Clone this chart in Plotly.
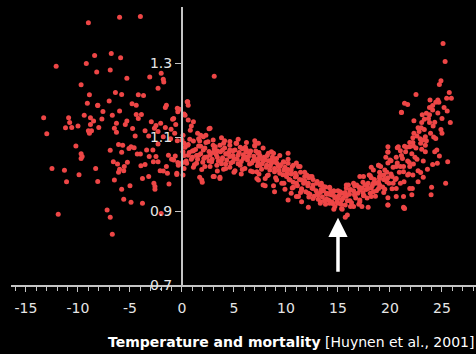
import plotly.graph_objects as go

# Cold side (sparse) : daily mean temperature (°C) and relative mortality
temp_cold = [-9.0, -12.1, -8.4, -9.2, -8.2, -9.7, -8.9, -9.1, -8.1, -9.4, -13.3, -10.9, -8.8, -8.5,
             -10.8, -8.8, -10.0, -11.2, -10.6, -8.0, -9.0, -8.7, -8.9, -13.0, -10.2, -9.7, -9.6, -9.7,
             -12.5, -11.3, -8.3, -9.9, -11.1, -8.1, -11.9]
rr_cold = [1.409, 1.291, 1.320, 1.299, 1.276, 1.241, 1.214, 1.191, 1.185, 1.159, 1.152, 1.152, 1.152, 1.143,
           1.139, 1.134, 1.130, 1.125, 1.126, 1.126, 1.117, 1.117, 1.110, 1.109, 1.076, 1.055, 1.047, 1.042,
           1.015, 1.010, 1.015, 0.998, 0.979, 0.980, 0.891]

temp_cool = [-6.0, -4.0, -6.8, -5.9, -6.9, -5.3, -3.1, -2.0, -1.8, -1.75, -2.3, -6.4, -5.8, -4.2, -3.7, -7.0,
             -4.8, -4.4, -8.1, -1.5, -1.6, -0.45, -7.6, -6.0, -6.7, -4.4, -3.9, -4.2, -7.7, -5.3, -2.95,
             -2.05, -0.9, -0.6, -5.45, -6.3, -2.5, -2.65, -6.5, -4.75, -1.6, -1.05, -3.55, -6.3, -2.3, -0.7,
             -4.5, -3.2, -1.8, -1.1, -0.45, -2.3, -6.1, -5.7, -4.9, -4.6, -5.1, -3.4, -2.8, -6.9, -5.8, -4.3,
             -4.0, -1.3, -0.65, -3.15, -2.5, -1.0, -6.6, -5.25, -2.75, -0.4, -6.2, -2.3, -5.55, -3.95, -3.55,
             -1.5, -6.0, -6.1, -5.6, -2.1, -1.8, -1.4, -0.5, -3.2, -3.8, -6.5, -2.7, -1.25, -2.6, -2.6, -5.0,
             -5.8, -5.6, -4.9, -3.8, -7.2, -2.0, -6.9, -6.7, -0.25, -0.4, -0.8, -0.35, -0.8, -0.5]
rr_cool = [1.424, 1.426, 1.326, 1.314, 1.281, 1.259, 1.262, 1.272, 1.256, 1.249, 1.232, 1.220, 1.215, 1.214,
           1.212, 1.197, 1.190, 1.186, 1.186, 1.186, 1.180, 1.178, 1.169, 1.170, 1.159, 1.161, 1.161, 1.150,
           1.149, 1.143, 1.141, 1.137, 1.148, 1.134, 1.134, 1.137, 1.131, 1.124, 1.124, 1.123, 1.126, 1.121,
           1.117, 1.113, 1.115, 1.110, 1.103, 1.103, 1.101, 1.095, 1.090, 1.081, 1.080, 1.078, 1.074, 1.071,
           1.069, 1.065, 1.065, 1.064, 1.059, 1.054, 1.054, 1.051, 1.049, 1.047, 1.047, 1.040, 1.033, 1.032,
           1.033, 1.031, 1.027, 1.033, 1.020, 1.022, 1.026, 1.020, 1.013, 1.005, 1.009, 1.009, 1.008, 1.002,
           0.999, 0.993, 0.988, 0.984, 0.975, 0.973, 0.966, 0.959, 0.968, 0.959, 0.932, 0.924, 0.921, 0.903,
           0.893, 0.883, 0.837, 1.175, 1.168, 1.150, 1.024, 1.038, 1.002]

temp_mild = [0.5, 0.2, 0.6, 1.1, 0.9, 2.6, 1.5, 1.8, 2.3, 0.0, 0.75, 1.1, 1.7, 2.5, 0.2, 0.55, 4.1, 4.6, 5.2,
             3.65, 3.2, 1.6, 7.0, 5.6, 2.05, 1.1, 3.9, 4.9, 0.1, 6.15, 3.0, 7.3, 0.6, 4.3, 1.6, 2.7, 5.4, 6.4,
             3.4, 4.6, 5.9, 2.1, 0.9, 3.8, 6.85, 2.85, 4.9, 0.05, 0.45, 1.4, 4.2, 6.5, 3.35, 5.6, 7.25, 1.1,
             2.2, 4.6, 6.05, 4.0, 0.2, 5.1, 6.8, 3.1, 3.65, 5.7, 7.2, 1.7, 1.95, 3.1, 0.55, 0.2, 0.6, 2.05,
             4.0, 5.25, 6.2, 7.5, 9.1, 9.75, 10.7, 11.35, 12.0, 12.5, 12.95, 13.6, 13.9, 13.3, 11.0, 3.0, 3.65,
             1.9, 0.1, 2.7, 7.35, 0.3]
rr_mild = [1.195, 1.162, 1.146, 1.141, 1.130, 1.122, 1.110, 1.105, 1.105, 1.092, 1.094, 1.089, 1.089, 1.087,
           1.083, 1.078, 1.090, 1.078, 1.083, 1.078, 1.074, 1.076, 1.076, 1.072, 1.065, 1.063, 1.065, 1.063,
           1.060, 1.060, 1.058, 1.056, 1.051, 1.054, 1.051, 1.051, 1.051, 1.047, 1.045, 1.047, 1.042, 1.042,
           1.040, 1.038, 1.036, 1.033, 1.033, 1.031, 1.029, 1.029, 1.027, 1.027, 1.024, 1.024, 1.022, 1.018,
           1.020, 1.018, 1.015, 1.013, 1.015, 1.009, 1.006, 0.993, 0.991, 1.000, 0.988, 0.991, 0.978, 1.264,
           1.195, 1.161, 1.186, 1.101, 1.083, 1.083, 1.065, 1.042, 1.042, 1.033, 1.024, 1.020, 0.997, 0.993,
           0.975, 0.966, 0.948, 0.921, 0.939, 0.993, 0.988, 0.984, 0.997, 1.124, 1.083, 1.159]

temp_band = [7.0, 8.3, 8.8, 10.2, 7.35, 8.0, 8.6, 8.9, 10.2, 7.5, 8.15, 9.25, 11.2, 7.65, 8.45, 9.8, 10.5,
             7.2, 8.9, 9.4, 10.9, 11.8, 12.3, 8.3, 10.05, 8.0, 9.1, 10.4, 11.5, 7.35, 9.6, 11.0, 12.15, 13.3,
             8.8, 8.0, 10.7, 12.6, 14.2, 9.9, 11.5, 13.6, 8.9, 10.5, 12.15, 13.1, 14.4, 11.2, 12.6, 13.9, 10.2,
             13.3, 14.2, 11.5, 12.15, 7.8]
rr_band = [1.078, 1.056, 1.056, 1.056, 1.042, 1.038, 1.038, 1.033, 1.029, 1.024, 1.024, 1.022, 1.020, 1.013,
           1.011, 1.011, 1.011, 1.006, 1.006, 1.002, 1.002, 0.993, 0.993, 0.997, 0.993, 0.988, 0.984, 0.984,
           0.984, 0.984, 0.975, 0.975, 0.975, 0.970, 0.968, 0.968, 0.964, 0.961, 0.964, 0.959, 0.957, 0.955,
           0.952, 0.948, 0.948, 0.943, 0.943, 0.939, 0.934, 0.932, 0.930, 0.925, 0.921, 0.925, 0.910, 0.970]

temp_warm = [21.1, 20.8, 21.0, 19.8, 20.0, 18.9, 18.4, 19.4, 20.2, 20.6, 19.0, 18.1, 17.45, 19.7, 20.3, 18.4,
             17.6, 16.8, 15.8, 17.9, 18.9, 19.5, 20.6, 16.15, 17.1, 15.2, 14.55, 18.4, 15.7, 16.6, 17.45, 18.2,
             14.7, 21.3, 19.8, 15.35, 16.15, 17.1, 14.4, 15.0, 15.7, 16.5, 17.3, 17.9, 14.7, 15.35, 21.3, 19.8,
             20.6, 15.9, 15.7, 19.8, 19.1, 19.5, 20.7, 19.8, 19.6, 20.1, 20.6, 18.9, 18.2, 17.1, 18.0, 19.0,
             16.5, 16.0, 21.4, 19.8]
rr_warm = [1.166, 1.074, 1.063, 1.060, 1.038, 1.024, 1.011, 0.997, 0.993, 0.988, 0.988, 0.995, 0.993, 0.979,
           0.975, 0.975, 0.970, 0.970, 0.970, 0.961, 0.961, 0.959, 0.961, 0.957, 0.957, 0.952, 0.952, 0.952,
           0.943, 0.943, 0.941, 0.939, 0.939, 0.939, 0.936, 0.930, 0.928, 0.930, 0.925, 0.921, 0.916, 0.912,
           0.912, 0.910, 0.912, 0.907, 0.910, 0.916, 0.939, 0.889, 0.883, 1.074, 1.020, 1.011, 1.071, 1.059,
           1.045, 1.036, 1.020, 1.024, 1.018, 0.993, 0.997, 0.993, 0.975, 0.970, 0.907, 0.916]

temp_hot = [25.1, 25.3, 24.9, 24.75, 25.7, 25.45, 25.9, 22.5, 21.4, 21.7, 23.85, 24.4, 24.7, 21.1, 23.8, 24.1,
            23.5, 22.3, 23.3, 23.05, 23.8, 24.15, 25.8, 25.0, 22.8, 22.2, 22.6, 23.4, 23.2, 24.4, 22.95, 22.25,
            21.6, 21.9, 23.4, 23.05, 24.3, 24.5, 24.75, 21.2, 22.4, 23.2, 21.85, 22.25, 24.1, 24.55, 25.55,
            21.0, 21.9, 22.7, 23.6, 21.3, 21.7, 22.2, 22.95, 23.2, 21.35, 22.7, 25.35, 21.9, 22.15, 24.0, 22.1,
            23.95, 21.35]
rr_hot = [1.353, 1.304, 1.252, 1.242, 1.220, 1.205, 1.205, 1.215, 1.191, 1.188, 1.200, 1.194, 1.194, 1.167,
          1.180, 1.173, 1.164, 1.144, 1.148, 1.139, 1.139, 1.130, 1.139, 1.110, 1.115, 1.098, 1.103, 1.101,
          1.092, 1.096, 1.083, 1.076, 1.072, 1.074, 1.078, 1.067, 1.060, 1.065, 1.049, 1.042, 1.045, 1.035,
          1.031, 1.027, 1.026, 1.029, 1.033, 1.020, 1.020, 1.009, 1.013, 1.006, 0.997, 0.997, 1.004, 0.991,
          0.979, 0.979, 0.975, 0.961, 0.961, 0.964, 0.944, 0.944, 0.908]

# Dense core of the cloud (read as groups of overlapping dots)
temp_core = [0.3, 0.7, 1.0, 1.3, 1.5, 1.8, 2.0, 2.2, 2.4, 2.6, 2.9, 3.1, 3.3, 3.5, 3.7, 3.9, 4.1, 4.3, 4.5,
             4.7, 4.9, 5.1, 5.3, 5.5, 5.7, 5.9, 6.1, 6.3, 6.5, 6.7, 6.9, 7.1, 7.3, 7.5, 7.7, 7.9, 8.1, 8.3, 8.5,
             8.7, 8.9, 9.1, 9.3, 9.5, 9.7, 9.9, 10.1, 10.3, 10.5, 10.7, 10.9, 11.1, 11.3, 11.5, 11.7, 11.9,
             12.1, 12.3, 12.5, 12.7, 12.9, 13.1, 13.3, 13.5, 13.7, 13.9, 14.1, 14.3, 14.5, 14.7, 14.9, 15.1,
             15.3, 15.5, 15.7, 15.9, 16.1, 16.3, 16.5, 16.7, 16.9, 17.1, 17.3, 17.5, 17.7, 17.9, 18.1, 18.3,
             18.5, 18.7, 18.9, 19.1, 19.3, 19.5, 19.7, 19.9, 20.1, 20.3, 20.5, 20.7, 20.9, 21.1, 21.3, 21.5,
             21.7, 21.9, 22.1, 22.3, 22.5, 22.7, 22.9, 23.1, 23.3, 23.5, 23.7, 23.9, 24.1, 24.3, 24.6, 24.9,
             25.2]
rr_core = [1.072, 1.058, 1.045, 1.066, 1.040, 1.055, 1.032, 1.070, 1.046, 1.061, 1.040, 1.068, 1.052, 1.035,
           1.060, 1.044, 1.070, 1.038, 1.058, 1.030, 1.050, 1.065, 1.040, 1.058, 1.034, 1.052, 1.072, 1.038,
           1.056, 1.030, 1.048, 1.062, 1.032, 1.050, 1.028, 1.045, 1.018, 1.036, 1.022, 1.046, 1.015, 1.030,
           1.010, 1.025, 0.998, 1.018, 1.002, 0.985, 1.000, 0.978, 0.992, 0.968, 0.985, 0.960, 0.975, 0.952,
           0.968, 0.945, 0.962, 0.940, 0.955, 0.932, 0.950, 0.938, 0.928, 0.945, 0.930, 0.952, 0.920, 0.936,
           0.925, 0.942, 0.918, 0.935, 0.950, 0.928, 0.945, 0.922, 0.955, 0.935, 0.948, 0.925, 0.962, 0.942,
           0.958, 0.975, 0.948, 0.968, 0.985, 0.955, 0.978, 0.996, 0.965, 0.985, 1.005, 0.975, 1.000, 1.018,
           0.985, 1.030, 1.005, 1.050, 1.020, 1.060, 1.035, 1.085, 1.055, 1.110, 1.070, 1.125, 1.095, 1.160,
           1.120, 1.090, 1.150, 1.110, 1.185, 1.140, 1.165, 1.120, 1.180]

temp_core2 = [0.1, 0.4, 0.8, 1.2, 1.6, 1.9, 2.3, 2.7, 3.0, 3.4, 3.8, 4.2, 4.6, 5.0, 5.4, 5.8, 6.2, 6.6, 7.0,
              7.4, 7.8, 8.2, 8.6, 9.0, 9.4, 9.8, 10.2, 10.6, 11.0, 11.4, 11.8, 12.2, 12.6, 13.0, 13.4, 13.8,
              14.2, 14.6, 15.0, 15.4, 15.8, 16.2, 16.6, 17.0, 17.4, 17.8, 18.2, 18.6, 19.0, 19.4, 19.8, 20.2,
              20.6, 21.0, 21.4, 21.8, 22.2, 22.6, 23.0, 23.4, 23.8, 24.2, 24.6, 25.0, 25.5]
rr_core2 = [1.105, 1.035, 1.118, 1.025, 1.095, 1.012, 1.085, 1.020, 1.092, 1.008, 1.098, 1.015, 1.088, 1.005,
            1.094, 1.012, 1.085, 1.008, 1.090, 1.000, 1.070, 0.995, 1.060, 0.990, 1.050, 0.975, 1.040, 0.962,
            1.030, 0.950, 1.005, 0.938, 0.985, 0.945, 0.975, 0.918, 0.962, 0.905, 0.955, 0.905, 0.962, 0.912,
            0.968, 0.918, 0.978, 0.935, 0.990, 0.940, 1.005, 0.950, 1.030, 0.960, 1.045, 0.975, 1.075, 1.000,
            1.085, 1.040, 1.125, 1.060, 1.160, 1.100, 1.200, 1.150, 1.170]

temp_core3 = [0.2, 0.6, 1.0, 1.4, 1.8, 2.2, 2.6, 3.0, 3.4, 3.8, 4.2, 4.6, 5.0, 5.4, 5.8, 6.2, 6.6, 7.0, 7.4,
              7.8, 8.2, 8.6, 9.0, 9.4, 9.8, 10.2, 10.6, 11.0, 11.4, 11.8, 12.2, 12.6, 13.0, 13.4, 13.8, 14.2,
              14.6, 15.0, 15.4, 15.8, 16.2, 16.6, 17.0, 17.4, 17.8, 18.2, 18.6, 19.0, 19.4, 19.8]
rr_core3 = [1.050, 1.080, 1.062, 1.050, 1.075, 1.045, 1.035, 1.078, 1.062, 1.028, 1.055, 1.065, 1.042, 1.028,
            1.068, 1.046, 1.062, 1.040, 1.058, 1.035, 1.050, 1.030, 1.040, 1.020, 1.032, 1.012, 1.020, 0.995,
            1.005, 0.982, 0.990, 0.970, 0.980, 0.958, 0.965, 0.945, 0.955, 0.935, 0.948, 0.940, 0.958, 0.945,
            0.965, 0.950, 0.970, 0.962, 0.975, 0.970, 0.985, 0.990]

x_ticks = [-15, -10, -5, 0, 5, 10, 15, 20, 25]
y_ticks = [0.7, 0.9, 1.1, 1.3]
arrow_temp = 15
arrow_from, arrow_to = 0.732, 0.882

temps = temp_cold + temp_cool + temp_mild + temp_band + temp_warm + temp_hot + temp_core + temp_core2 + temp_core3
rrs = rr_cold + rr_cool + rr_mild + rr_band + rr_warm + rr_hot + rr_core + rr_core2 + rr_core3

W, H = 476, 354
ml, mr, mt, mb = 11, 0, 7, 69
x_range = [-16.44, 28.27]
y_range = [0.7, 1.4514]
y_axis_pos = (0 - x_range[0]) / (x_range[1] - x_range[0])

axis_col = "#c4c4c4"
text_col = "#e6e6e6"
font = "DejaVu Sans, Verdana, sans-serif"

fig = go.Figure()
fig.add_trace(go.Scatter(
    x=temps, y=rrs, mode="markers",
    marker=dict(color="#ee4646", size=5, line=dict(width=0)),
    hoverinfo="skip", showlegend=False, cliponaxis=False,
))

fig.add_annotation(
    x=arrow_temp, y=arrow_to, ax=arrow_temp, ay=arrow_from,
    xref="x", yref="y", axref="x", ayref="y",
    text="", showarrow=True, arrowhead=2, arrowsize=1.1, arrowwidth=3.5,
    arrowcolor="white", standoff=0, startstandoff=0,
)

fig.add_annotation(
    x=1, xref="paper", xanchor="right",
    y=-(342 - (H - mb)) / (H - mt - mb), yref="paper", yanchor="middle",
    text="<b>Temperature and mortality</b> [Huynen et al., 2001]",
    showarrow=False, font=dict(family=font, size=14, color="white"),
)

fig.update_layout(
    width=W, height=H,
    margin=dict(l=ml, r=mr, t=mt, b=mb, pad=0),
    paper_bgcolor="black", plot_bgcolor="black",
    font=dict(family=font, size=14, color=text_col),
    xaxis=dict(
        range=x_range, tickvals=x_ticks, ticktext=[str(v) for v in x_ticks],
        showline=True, linecolor=axis_col, linewidth=2,
        ticks="outside", ticklen=5, tickwidth=1, tickcolor=axis_col,
        minor=dict(dtick=1, tick0=0, ticks="outside", ticklen=4, tickcolor=axis_col, tickwidth=1, showgrid=False),
        showgrid=False, zeroline=False, anchor="y", ticklabelstandoff=4,
        tickfont=dict(family=font, size=14, color=text_col),
    ),
    yaxis=dict(
        range=y_range, tickvals=y_ticks, ticktext=["0.7", "0.9", "1.1", "1.3"],
        showline=True, linecolor=axis_col, linewidth=2,
        ticks="outside", ticklen=6, tickwidth=1, tickcolor=axis_col,
        showgrid=False, zeroline=False,
        anchor="free", position=y_axis_pos,
        tickfont=dict(family=font, size=14, color=text_col),
    ),
)

fig.write_html(
    "out.html",
    config={"displayModeBar": False, "staticPlot": True},
    post_script="document.body.style.margin='0';document.body.style.padding='0';"
                "document.body.style.background='black';document.body.style.overflow='hidden';",
)
